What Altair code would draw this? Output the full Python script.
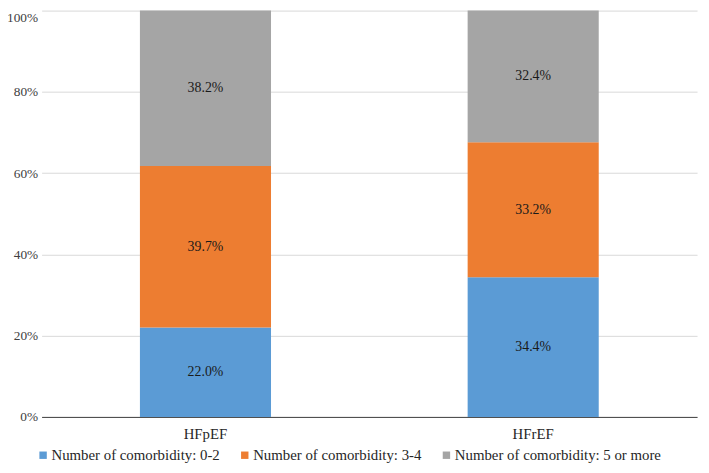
import altair as alt
import pandas as pd

categories = ["HFpEF", "HFpEF", "HFpEF", "HFrEF", "HFrEF", "HFrEF"]
series = [
    "Number of comorbidity: 0-2",
    "Number of comorbidity: 3-4",
    "Number of comorbidity: 5 or more",
] * 2
order_idx = [0, 1, 2, 0, 1, 2]
values = [22.0, 39.7, 38.2, 34.4, 33.2, 32.4]

series_names = [
    "Number of comorbidity: 0-2",
    "Number of comorbidity: 3-4",
    "Number of comorbidity: 5 or more",
]
colors = ["#5B9BD5", "#ED7D31", "#A5A5A5"]

df = pd.DataFrame({"cat": categories, "series": series, "idx": order_idx, "value": values})

FONT = "Liberation Serif"

base = alt.Chart(df).transform_stack(
    stack="value",
    groupby=["cat"],
    as_=["y0", "y1"],
    sort=[alt.SortField("idx", order="ascending")],
    offset="normalize",
).transform_calculate(
    mid="(datum.y0 + datum.y1) / 2",
    lbl="format(datum.value, '.1f') + '%'",
)

xenc = alt.X(
    "cat:N",
    title=None,
    scale=alt.Scale(paddingInner=0.6, paddingOuter=0.3),
    axis=alt.Axis(
        labelAngle=0,
        ticks=False,
        domainColor="#404040",
        labelFont=FONT,
        labelFontSize=15,
        labelColor="#262626",
        labelPadding=10,
    ),
)

bars = base.mark_bar().encode(
    x=xenc,
    y=alt.Y(
        "y0:Q",
        title=None,
        scale=alt.Scale(domain=[0, 1]),
        axis=alt.Axis(
            values=[0, 0.2, 0.4, 0.6, 0.8, 1.0],
            format=".0%",
            grid=True,
            gridColor="#d9d9d9",
            domain=False,
            ticks=False,
            labelFont=FONT,
            labelFontSize=13.5,
            labelColor="#404040",
            labelPadding=4,
            labelBaseline={"condition": {"test": "datum.value >= 1", "value": "top"}, "value": "middle"},
        ),
    ),
    y2="y1:Q",
    color=alt.Color(
        "series:N",
        scale=alt.Scale(domain=series_names, range=colors),
        legend=alt.Legend(
            title=None,
            orient="none",
            direction="horizontal",
            legendX=-6,
            legendY=442,
            symbolType="square",
            symbolSize=56,
            symbolStrokeWidth=0,
            labelFont=FONT,
            labelFontSize=15,
            labelColor="#262626",
            labelOffset=1,
            columnPadding=17,
            labelLimit=400,
        ),
    ),
)

texts = base.mark_text(font=FONT, fontSize=14, color="#1a1a1a").encode(
    x=alt.X("cat:N"),
    y=alt.Y("mid:Q"),
    text="lbl:N",
)

chart = (
    alt.layer(bars, texts)
    .properties(
        width=663,
        height=411,
        autosize=alt.AutoSizeParams(type="none"),
        padding={"left": 34, "top": 0, "right": 4, "bottom": 46},
    )
    .configure_view(stroke=None)
)

chart.save("out.html", embed_options={"renderer": "svg", "actions": False})
